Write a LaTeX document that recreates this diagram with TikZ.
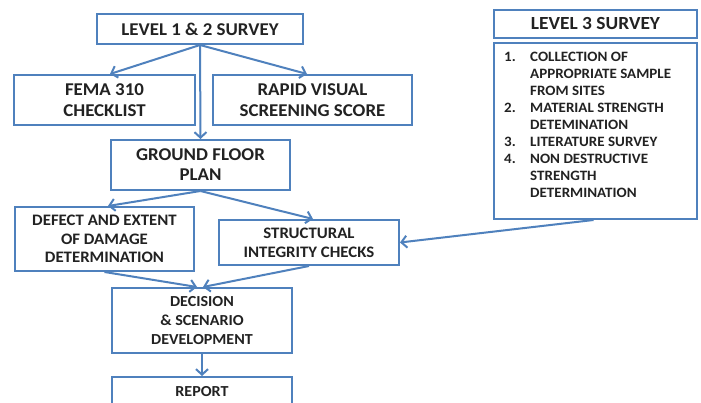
\documentclass[tikz,border=0pt]{standalone}
\usepackage{fontspec}
\setmainfont{Carlito}[FakeStretch=1.05]
\usetikzlibrary{arrows.meta,calc}
\definecolor{boxblue}{HTML}{4F81BD}
\definecolor{txt}{HTML}{222222}
\begin{document}
\begin{tikzpicture}[x=1pt,y=-1pt,
  box/.style={draw=boxblue, line width=2pt, fill=white, align=center,
    text=txt, inner sep=0pt, font=\bfseries\fontsize{16}{18.7}\selectfont},
  bigtxt/.style={font=\bfseries\fontsize{18}{21}\selectfont},
  conn/.style={draw=boxblue, line width=2pt, -{Straight Barb[length=5.5pt,width=12pt,line width=2pt]}}]
\clip (0,0) rectangle (701,403);
\fill[white] (0,0) rectangle (701,403);
\node[box, font=\bfseries\fontsize{18}{21}\selectfont, minimum width=206, minimum height=30] (l12) at (200,29) {LEVEL 1 \& 2 SURVEY};
\node[box, bigtxt, minimum width=181, minimum height=50] (fema) at (104.5,100) {FEMA 310\\CHECKLIST};
\node[box, bigtxt, minimum width=199, minimum height=50] (rvs) at (312.5,100) {RAPID VISUAL\\SCREENING SCORE};
\node[box, font=\bfseries\fontsize{18}{20}\selectfont, minimum width=179, minimum height=50] (gfp) at (200.5,165) {GROUND FLOOR\\PLAN};
\node[box, minimum width=179, minimum height=64] (dfx) at (104.5,239) {DEFECT AND EXTENT\\OF DAMAGE\\DETERMINATION};
\node[box, font=\bfseries\fontsize{16}{19}\selectfont, minimum width=180, minimum height=45] (sic) at (309,242.5) {STRUCTURAL\\INTEGRITY CHECKS};
\node[box, font=\bfseries\fontsize{15.3}{19}\selectfont, minimum width=180, minimum height=65] (dec) at (202,320.5) {DECISION\\\& SCENARIO\\DEVELOPMENT};
\node[box, font=\bfseries\fontsize{15.3}{19}\selectfont, minimum width=180, minimum height=30] (rep) at (202,392) {REPORT};
\node[box, font=\bfseries\fontsize{18.5}{21}\selectfont, minimum width=203, minimum height=28] (l3) at (595.5,24) {LEVEL 3 SURVEY};
\node[box, minimum width=203, minimum height=176] (l3l) at (595.5,131) {};
\node[anchor=north west, inner sep=0pt, align=left, text=txt,
  font=\bfseries\fontsize{14.3}{17}\selectfont] (l3t) at ($(l3l.north west)+(11,9.5)$)
  {\makebox[26pt][l]{1.}COLLECTION OF\\
   \hspace*{26pt}APPROPRIATE SAMPLE\\
   \hspace*{26pt}FROM SITES\\
   \makebox[26pt][l]{2.}MATERIAL STRENGTH\\
   \hspace*{26pt}DETEMINATION\\
   \makebox[26pt][l]{3.}LITERATURE SURVEY\\
   \makebox[26pt][l]{4.}NON DESTRUCTIVE\\
   \hspace*{26pt}STRENGTH\\
   \hspace*{26pt}DETERMINATION};
\draw[conn] (l12.south) -- ($(fema.north)+(5.5,0)$);
\draw[conn] (l12.south) -- ($(rvs.north)+(-5.5,0)$);
\draw[conn] (l12.south) -- (gfp.north);
\draw[conn] (gfp.south) -- ($(dfx.north)+(3.5,0)$);
\draw[conn] (gfp.south) -- ($(sic.north)+(4,0)$);
\draw[conn] (dfx.south) -- ($(dec.north)+(-5,0)$);
\draw[conn] (sic.south) -- ($(dec.north)+(1,0)$);
\draw[conn] (dec.south) -- (rep.north);
\draw[conn] ($(l3l.south)+(-2,0)$) -- (sic.east);
\end{tikzpicture}
\end{document}
